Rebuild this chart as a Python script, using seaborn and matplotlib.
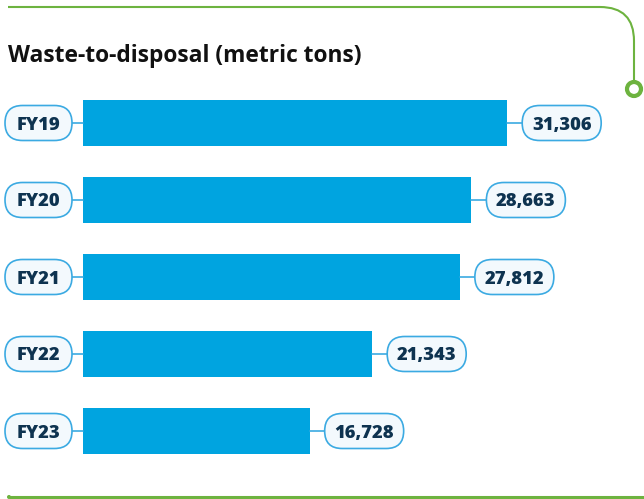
import numpy as np
import pandas as pd
import seaborn as sns
import matplotlib.pyplot as plt
from matplotlib.patches import FancyBboxPatch, Circle, PathPatch
from matplotlib.path import Path

# Waste-to-disposal by fiscal year (metric tons)
years = ["FY19", "FY20", "FY21", "FY22", "FY23"]
waste_tons = [31306, 28663, 27812, 21343, 16728]

BAR = "#00A4E0"
PILL_FC = "#F3F9FD"
PILL_EC = "#3BAAE2"
TEXT = "#0E3350"
GREEN = "#6DB33F"

W, H = 644, 499
sns.set_style("white")
plt.rcParams["font.family"] = ["Open Sans", "DejaVu Sans"]

fig = plt.figure(figsize=(W / 100, H / 100), dpi=100)
fig.patch.set_facecolor("white")

# bar axes: x origin at 83 px, 77 px row pitch
px_per_ton = 0.01355
ax = fig.add_axes([83 / W, (H - 469.5) / H, (W - 83) / W, 385 / H])
df = pd.DataFrame({"year": years, "tons": waste_tons})
sns.barplot(data=df, x="tons", y="year", orient="h", color=BAR,
            saturation=1, width=0.6, linewidth=0, ax=ax)
ax.set_xlim(0, (W - 83) / px_per_ton)
ax.set_ylim(4.5, -0.5)
ax.axis("off")

# overlay in pixel units (y grows downward) for pills and frame
ov = fig.add_axes([0, 0, 1, 1])
ov.set_xlim(0, W)
ov.set_ylim(H, 0)
ov.axis("off")


def to_px(x, y):
    disp = ax.transData.transform((x, y))
    return ov.transData.inverted().transform(disp)


def pill(x0, cy, w, h, label):
    ov.add_patch(FancyBboxPatch((x0, cy - h / 2), w, h,
                                boxstyle=f"round,pad=0,rounding_size={h / 2}",
                                fc=PILL_FC, ec=PILL_EC, lw=1.2, zorder=3))
    ov.text(x0 + w / 2, cy, label, ha="center", va="center_baseline",
            fontsize=13.2, fontweight=800, color=TEXT, zorder=4)


for i, (yr, v) in enumerate(zip(years, waste_tons)):
    x_start, cy = to_px(0, i)
    x_end, _ = to_px(v, i)
    # category pill + connector
    ov.plot([72, x_start], [cy, cy], color=PILL_EC, lw=1.2, zorder=2)
    pill(5, cy, 67, 35, yr)
    # value pill + connector
    ov.plot([x_end, x_end + 15], [cy, cy], color=PILL_EC, lw=1.2, zorder=2)
    pill(x_end + 15, cy, 79, 35, f"{v:,}")

# title
ov.text(8, 62, "Waste-to-disposal (metric tons)", ha="left", va="baseline",
        fontsize=16.4, fontweight="bold", color="#111111")

# green frame: top rule with rounded corner ending in a ring
verts = [(8, 7), (600, 7), (634, 7), (634, 41), (634, 81)]
codes = [Path.MOVETO, Path.LINETO, Path.CURVE3, Path.CURVE3, Path.LINETO]
ov.add_patch(PathPatch(Path(verts, codes), fc="none", ec=GREEN, lw=1.5))
ov.add_patch(Circle((634, 89), 7, fc="white", ec=GREEN, lw=3, zorder=5))

# bottom rule
ov.plot([9, W], [497, 497], color=GREEN, lw=2.2, solid_capstyle="butt")
ov.add_patch(Circle((9, 497), 2, fc=GREEN, ec="none"))

fig.savefig("out.png", dpi=100)
